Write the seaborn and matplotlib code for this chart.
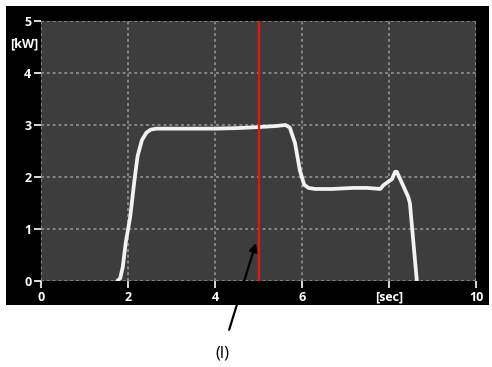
import matplotlib
matplotlib.use("Agg")
import matplotlib.pyplot as plt
import seaborn as sns
import pandas as pd
from matplotlib.patches import Rectangle

time_sec = [1.75, 1.82, 1.88, 1.95, 2.05, 2.15, 2.22, 2.32, 2.42, 2.52, 2.65, 3.0, 3.5, 4.0, 4.5, 5.0,
            5.4, 5.62, 5.72, 5.84, 5.95, 6.05, 6.15, 6.3, 6.7, 7.17, 7.5, 7.8, 7.87, 7.95,
            8.07, 8.14, 8.18, 8.3, 8.44, 8.48, 8.64]
power_kw = [0.0, 0.05, 0.27, 0.75, 1.23, 1.95, 2.4, 2.71, 2.85, 2.91, 2.93, 2.93, 2.93, 2.93, 2.94, 2.96,
            2.98, 3.0, 2.95, 2.65, 2.13, 1.85, 1.79, 1.77, 1.77, 1.79, 1.79, 1.77, 1.84, 1.89,
            1.96, 2.1, 2.1, 1.88, 1.62, 1.5, 0.0]
marker_time = 5.0
x_ticks = [0, 2, 4, 6, 8, 10]
x_tick_labels = ["0", "2", "4", "6", "[sec]", "10"]
y_ticks = [0, 1, 2, 3, 4, 5]
y_tick_labels = ["0", "1", "2", "3", "4", "5"]
y_unit = "[kW]"
annotation_label = "(l)"

df = pd.DataFrame({"t": time_sec, "p": power_kw})

sns.set_style("dark")
plt.rcParams["font.family"] = ["Open Sans", "DejaVu Sans"]

W, H = 492, 367
fig = plt.figure(figsize=(W / 100, H / 100), dpi=100, facecolor="white")
bg = Rectangle((6 / W, 1 - 305 / H), (489 - 6) / W, (305 - 6) / H,
               transform=fig.transFigure, facecolor="black", edgecolor="none", zorder=-10)
fig.patches.append(bg)
ax = fig.add_axes([41 / W, 1 - 281 / H, 435 / W, 260 / H])
ax.set_zorder(1)
ax.set_facecolor("#3d3d3d")

sns.lineplot(data=df, x="t", y="p", sort=False, color="#f2f2f2", linewidth=2.7,
             ax=ax, zorder=3, solid_capstyle="round", solid_joinstyle="round")
ax.axvline(marker_time, color="#ee1111", linewidth=1.6, zorder=4)

ax.set_xlim(0, 10)
ax.set_ylim(0, 5)
ax.set_xticks(x_ticks)
ax.set_xticklabels(x_tick_labels)
ax.set_yticks(y_ticks)
ax.set_yticklabels(y_tick_labels)
ax.tick_params(axis="both", colors="white", labelcolor="white", length=5, width=1.2,
               direction="out", labelsize=9, pad=2, bottom=True, left=True)
for lab in ax.get_xticklabels() + ax.get_yticklabels():
    lab.set_fontweight("bold")
ax.grid(True, color="#858585", linestyle=(0, (1.5, 1.5)), linewidth=1.4)
for s in ax.spines.values():
    s.set_visible(False)
ax.set_xlabel("")
ax.set_ylabel("")

ax.text(-0.007, 4.55, y_unit, color="white", fontsize=9, fontweight="bold",
        ha="right", va="center", transform=ax.get_yaxis_transform())

ax.annotate(annotation_label, xy=(4.94, 0.73), xycoords="data",
            xytext=(222 / W, 1 - 353 / H), textcoords="figure fraction",
            ha="center", va="center", fontsize=12, color="black",
            arrowprops=dict(arrowstyle="-|>", color="black", lw=1.6,
                            shrinkA=9, shrinkB=0, mutation_scale=12),
            annotation_clip=False)

fig.savefig("out.png", dpi=100, facecolor="white")
